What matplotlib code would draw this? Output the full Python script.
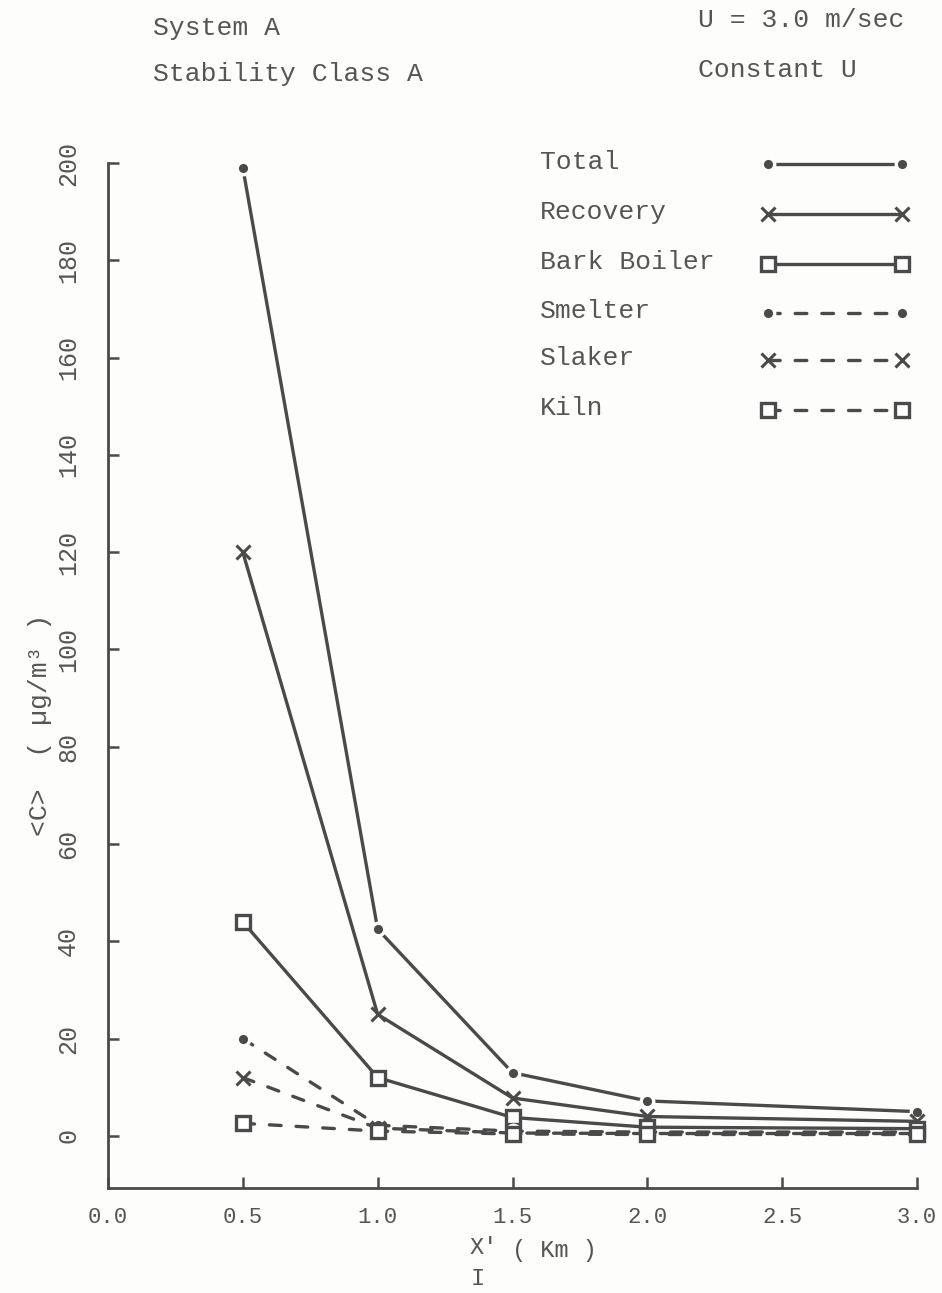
import matplotlib
matplotlib.use("Agg")
import matplotlib.pyplot as plt
from matplotlib.lines import Line2D

# Downwind distance (km) and average concentration (ug/m3) per source
distance_km = [0.5, 1.0, 1.5, 2.0, 3.0]
total = [199.0, 42.5, 13.0, 7.2, 5.0]
recovery = [120.0, 25.0, 7.8, 4.0, 3.0]
bark_boiler = [44.0, 12.0, 3.8, 1.8, 1.5]
smelter = [20.0, 2.2, 1.0, 0.8, 0.8]
slaker = [12.0, 1.6, 0.6, 0.5, 0.5]
kiln = [2.6, 1.0, 0.4, 0.3, 0.3]

series_names = ["Total", "Recovery", "Bark Boiler", "Smelter", "Slaker", "Kiln"]
x_ticks = [0.0, 0.5, 1.0, 1.5, 2.0, 2.5, 3.0]
y_ticks = [0, 20, 40, 60, 80, 100, 120, 140, 160, 180, 200]

INK = "#4a4a4a"
TXT = "#555555"
BG = "#fdfdfb"
FONT = "Liberation Mono"
W, H = 942, 1293

fig = plt.figure(figsize=(W / 100, H / 100), dpi=100, facecolor=BG)
ax = fig.add_axes([108 / W, 1 - 1188 / H, (917 - 108) / W, (1188 - 163) / H])
ax.set_facecolor("none")
ax.set_xlim(0, 3.0)
ax.set_ylim(-10.7, 200)

solid = dict(color=INK, lw=2.4, solid_capstyle="round")
dashed = dict(color=INK, lw=2.4, dashes=(3.5, 4.5), dash_capstyle="round")
dot_m = dict(marker="o", ms=9, mfc=INK, mec=BG, mew=2.4)
x_m = dict(marker="x", ms=10, mew=2.2, mec=INK)
sq_m = dict(marker="s", ms=10, mfc="white", mec=INK, mew=2.4)

styles = [
    (total, solid, dot_m),
    (recovery, solid, x_m),
    (bark_boiler, solid, sq_m),
    (smelter, dashed, dot_m),
    (slaker, dashed, x_m),
    (kiln, dashed, sq_m),
]
for values, ls, mk in styles:
    ax.plot(distance_km, values, **ls, zorder=3, clip_on=False)
    ax.plot(distance_km, values, linestyle="none", **mk, zorder=4, clip_on=False)

# axes frame: left and bottom only, inward ticks
for side in ("top", "right"):
    ax.spines[side].set_visible(False)
for side in ("left", "bottom"):
    ax.spines[side].set_color(INK)
    ax.spines[side].set_linewidth(2.0)

ax.set_xticks(x_ticks)
ax.set_xticklabels([f"{t:.1f}" for t in x_ticks], fontfamily=FONT, fontsize=16, color=TXT)
ax.set_yticks(y_ticks)
ax.set_yticklabels([str(t) for t in y_ticks], fontfamily=FONT, fontsize=18,
                   color=TXT, rotation=90, va="center")
ax.tick_params(axis="both", direction="in", length=8, width=1.8, color=INK)
ax.tick_params(axis="x", pad=14)
ax.tick_params(axis="y", pad=20)

# axis titles
fig.text(40 / W, 1 - 725 / H, "<C>  ( µg/m³ )", rotation=90, ha="center", va="center",
         fontfamily=FONT, fontsize=19, color=TXT)
lab = dict(fontfamily=FONT, fontsize=17, color=TXT, ha="left", va="baseline")
fig.text(470 / W, 1 - 1254 / H, "X'", **lab)
fig.text(471 / W, 1 - 1285 / H, "I", **lab)
fig.text(512 / W, 1 - 1257 / H, "( Km )", **lab)

# header annotations
hdr = dict(fontfamily=FONT, fontsize=19, color=TXT, ha="left", va="center")
fig.text(153 / W, 1 - 28 / H, "System A", **hdr)
fig.text(153 / W, 1 - 74 / H, "Stability Class A", **hdr)
fig.text(698 / W, 1 - 20 / H, "U = 3.0 m/sec", **hdr)
fig.text(698 / W, 1 - 70 / H, "Constant U", **hdr)

# key drawn at the upper right
key_y = [162, 212, 262, 311, 358, 408]
for name, yy, (values, ls, mk) in zip(series_names, key_y, styles):
    fig.text(540 / W, 1 - yy / H, name, **hdr)
    yf = 1 - (yy + 2) / H
    fig.add_artist(Line2D([768 / W, 902 / W], [yf, yf], transform=fig.transFigure, **ls))
    fig.add_artist(Line2D([768 / W, 902 / W], [yf, yf], transform=fig.transFigure,
                          linestyle="none", **mk))

fig.savefig("out.png", dpi=100, facecolor=fig.get_facecolor())
